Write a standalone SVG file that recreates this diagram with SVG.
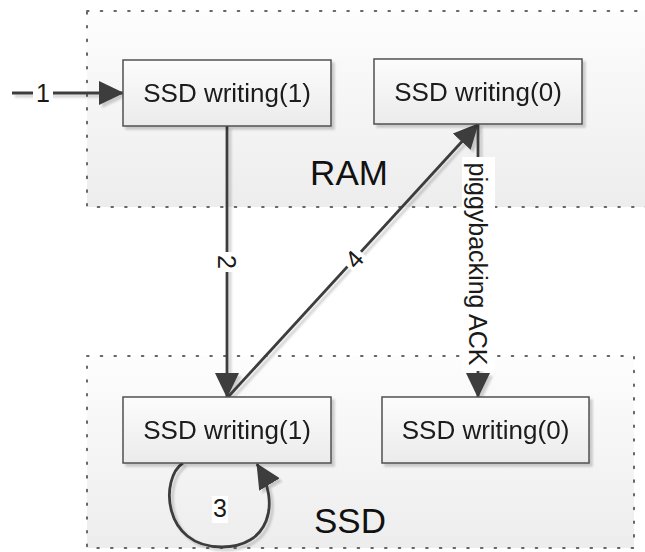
<svg xmlns="http://www.w3.org/2000/svg" width="645" height="552" viewBox="0 0 645 552">
  <defs>
    <linearGradient id="boxFill" x1="0" y1="0" x2="0" y2="1">
      <stop offset="0" stop-color="#fcfcfc"/>
      <stop offset="1" stop-color="#ebebeb"/>
    </linearGradient>
    <linearGradient id="zoneFill" x1="0" y1="0" x2="0" y2="1">
      <stop offset="0" stop-color="#fdfdfd"/>
      <stop offset="1" stop-color="#ededed"/>
    </linearGradient>
    <filter id="shadow" x="-10%" y="-10%" width="130%" height="130%">
      <feDropShadow dx="3" dy="3" stdDeviation="1.2" flood-color="#000" flood-opacity="0.18"/>
    </filter>
    <marker id="arrow" markerUnits="userSpaceOnUse" viewBox="0 0 25 24" markerWidth="25" markerHeight="24" refX="24" refY="12" orient="auto">
      <path d="M0,0 L25,12 L0,24 z" fill="#3c3c3c"/>
    </marker>
    <style>
      .zone { fill: url(#zoneFill); stroke: #666; stroke-width: 2; stroke-dasharray: 1.6 12.1; stroke-linecap: round; }
      .zonelabel { font-family: "Liberation Sans", Arial, sans-serif; font-size: 35px; fill: #111; text-anchor: middle; }
      .box { fill: url(#boxFill); stroke: #505050; stroke-width: 1.5; }
      .boxtext { font-family: "Liberation Sans", Arial, sans-serif; font-size: 26px; fill: #1a1a1a; text-anchor: middle; }
      .conn { fill: none; stroke: #3c3c3c; stroke-width: 2.8; marker-end: url(#arrow); }
      .lblbg { fill: #ffffff; }
      .lbl { font-family: "Liberation Sans", Arial, sans-serif; font-size: 25px; fill: #1a1a1a; text-anchor: middle; }
    </style>
  </defs>

  <g id="zones">
    <g id="zone-ram">
      <rect class="zone" x="87" y="11" width="600" height="196"/>
      <text class="zonelabel" x="349" y="185" font-size="36">RAM</text>
    </g>
    <g id="zone-ssd">
      <rect class="zone" x="87" y="356" width="547" height="192"/>
      <text class="zonelabel" x="350" y="533">SSD</text>
    </g>
  </g>

  <g id="connectors" filter="url(#shadow)">
    <path id="c1" class="conn" d="M12,93 L123,93"/>
    <path id="c2" class="conn" d="M227,126 L227,397"/>
    <path id="c4" class="conn" d="M228,397 L478,124"/>
    <path id="cack" class="conn" d="M478,124 L478,397"/>
    <path id="c3" class="conn" d="M183,463 C160,478 162,547 222,547 C268,547 282,505 257,464"/>
  </g>

  <g id="connector-labels">
    <rect class="lblbg" x="33" y="82" width="20" height="22"/>
    <text class="lbl" x="43" y="102">1</text>
    <g transform="translate(227,262) rotate(90)">
      <rect class="lblbg" x="-10" y="-12" width="20" height="22"/>
      <text class="lbl" x="0" y="9">2</text>
    </g>
    <g transform="translate(354,259) rotate(-47.6)">
      <rect class="lblbg" x="-10" y="-12" width="20" height="22"/>
      <text class="lbl" x="0" y="9">4</text>
    </g>
    <rect class="lblbg" x="212" y="496" width="16" height="27"/>
    <text class="lbl" x="220" y="517">3</text>
    <rect class="lblbg" x="462" y="157" width="33" height="214"/>
    <g transform="translate(478,264) rotate(90)">
      <text class="lbl" x="0" y="9" font-size="26">piggybacking ACK</text>
    </g>
  </g>

  <g id="node-ram-w1" filter="url(#shadow)">
    <rect class="box" x="123" y="60" width="208" height="66"/>
    <text class="boxtext" x="227" y="102">SSD writing(1)</text>
  </g>
  <g id="node-ram-w0" filter="url(#shadow)">
    <rect class="box" x="374" y="59" width="208" height="65"/>
    <text class="boxtext" x="478" y="101">SSD writing(0)</text>
  </g>
  <g id="node-ssd-w1" filter="url(#shadow)">
    <rect class="box" x="123" y="397" width="208" height="66"/>
    <text class="boxtext" x="227" y="439">SSD writing(1)</text>
  </g>
  <g id="node-ssd-w0" filter="url(#shadow)">
    <rect class="box" x="382" y="397" width="207" height="66"/>
    <text class="boxtext" x="485.5" y="439">SSD writing(0)</text>
  </g>
</svg>
